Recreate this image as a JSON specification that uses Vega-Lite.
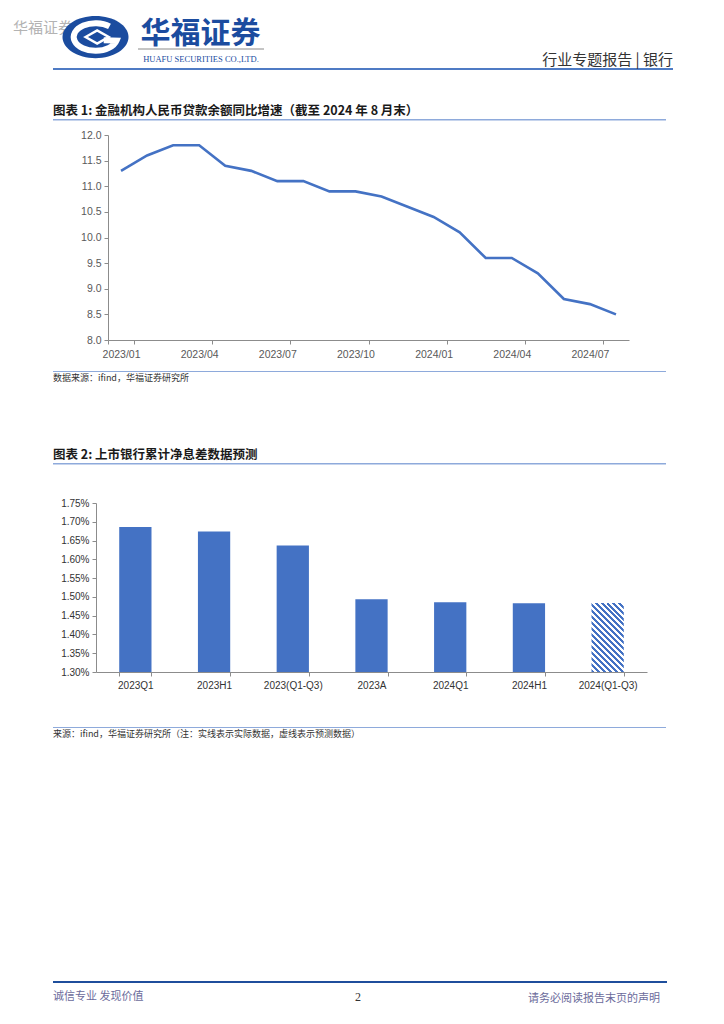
{
"$schema": "https://vega.github.io/schema/vega-lite/v6.json",
"background": "#ffffff",
"padding": {"left": 12, "top": 8, "right": 0, "bottom": 0},
"autosize": {"type": "pad"},
"bounds": "flush",
"spacing": 0,
"config": {
  "view": {"stroke": null},
  "axis": {"domainColor": "#8c8c8c", "tickColor": "#8c8c8c", "grid": false, "labelFont": "Liberation Sans"}
},
"vconcat": [
  {"width": 1, "height": 20, "data": {"values": [{}]}, "mark": {"type": "rect", "opacity": 0}, "encoding": {}},
  {"width": 40, "height": 0.01, "data": {"values": [{"t": "华福证券"}]}, "mark": {"type": "text", "align": "right", "font": "Noto Sans CJK SC", "fontSize": 15, "color": "#b3b3b3"}, "encoding": {"text": {"field": "t"}}},
  {"width": 1, "height": 4.5, "data": {"values": [{}]}, "mark": {"type": "rect", "opacity": 0}, "encoding": {}},
  {"width": 295, "height": 0.01, "data": {"values": [{"t": "华福证券"}]}, "mark": {"type": "text", "font": "Noto Sans CJK SC", "fontWeight": "bold", "fontSize": 30, "color": "#1b4c9f"}, "encoding": {"text": {"field": "t"}}},
  {"width": 1, "height": 1.5, "data": {"values": [{}]}, "mark": {"type": "rect", "opacity": 0}, "encoding": {}},
  {"width": 85, "height": 0.01, "data": {"values": [{}]},
   "layer": [
     {"mark": {"type": "point", "shape": "M-1,0A1,0.64,0,1,1,1,0A1,0.64,0,1,1,-1,0Z", "size": 4356, "filled": true, "opacity": 1, "color": "#1b4c9f"}, "encoding": {}},
     {"mark": {"type": "point", "shape": "M0.424,-0.322A0.66,0.42,0,1,0,0.6375,0.1087L0.25,0.1", "size": 4356, "filled": false, "opacity": 1, "stroke": "#ffffff", "strokeWidth": 6}, "encoding": {}},
     {"mark": {"type": "point", "shape": "M-0.3,0L0.05,-0.2L0.4,0L0.05,0.2Z", "size": 4356, "filled": false, "opacity": 1, "stroke": "#ffffff", "strokeWidth": 2.5}, "encoding": {}}
   ]},
  {"width": 1, "height": 10.5, "data": {"values": [{}]}, "mark": {"type": "rect", "opacity": 0}, "encoding": {}},
  {"width": 296, "height": 0.01, "data": {"values": [{}]}, "mark": {"type": "point", "shape": "M-1,0L1,0", "size": 15876, "filled": false, "opacity": 1, "stroke": "#8a8a8a", "strokeWidth": 1}, "encoding": {}},
  {"width": 1, "height": 8.5, "data": {"values": [{}]}, "mark": {"type": "rect", "opacity": 0}, "encoding": {}},
  {"width": 296, "height": 0.01, "data": {"values": [{"t": "HUAFU SECURITIES CO.,LTD."}]}, "mark": {"type": "text", "font": "Liberation Serif", "fontSize": 8.5, "color": "#1b4c9f"}, "encoding": {"text": {"field": "t"}}},
  {"width": 1, "height": 8, "data": {"values": [{}]}, "mark": {"type": "rect", "opacity": 0}, "encoding": {}},
  {"width": 620, "height": 2, "data": {"values": [{}]}, "mark": {"type": "rect", "color": "#4f7bc4"}, "encoding": {},
   "title": {"text": "行业专题报告 | 银行", "orient": "top", "anchor": "end", "frame": "group", "offset": -15, "baseline": "bottom", "fontSize": 15, "fontWeight": "normal", "color": "#333333", "font": "Noto Sans CJK SC"}},
  {"width": 1, "height": 48.5, "data": {"values": [{}]}, "mark": {"type": "rect", "opacity": 0}, "encoding": {}},
  {"width": 613, "height": 1.5, "data": {"values": [{}]}, "mark": {"type": "rect", "color": "#8eaadb"}, "encoding": {},
   "title": {"text": "图表 1:  金融机构人民币贷款余额同比增速（截至 2024 年 8 月末）", "orient": "top", "anchor": "start", "frame": "group", "offset": -11, "baseline": "bottom", "fontSize": 12.5, "fontWeight": "bold", "color": "#1a1a1a", "font": "Noto Sans CJK SC"}},
  {"width": 1, "height": 14, "data": {"values": [{}]}, "mark": {"type": "rect", "opacity": 0}, "encoding": {}},
  {
    "width": 576, "height": 205,
    "data": {"values": [
      {"month": "2023/01", "growth": 11.3},
      {"month": "2023/02", "growth": 11.6},
      {"month": "2023/03", "growth": 11.8},
      {"month": "2023/04", "growth": 11.8},
      {"month": "2023/05", "growth": 11.4},
      {"month": "2023/06", "growth": 11.3},
      {"month": "2023/07", "growth": 11.1},
      {"month": "2023/08", "growth": 11.1},
      {"month": "2023/09", "growth": 10.9},
      {"month": "2023/10", "growth": 10.9},
      {"month": "2023/11", "growth": 10.8},
      {"month": "2023/12", "growth": 10.6},
      {"month": "2024/01", "growth": 10.4},
      {"month": "2024/02", "growth": 10.1},
      {"month": "2024/03", "growth": 9.6},
      {"month": "2024/04", "growth": 9.6},
      {"month": "2024/05", "growth": 9.3},
      {"month": "2024/06", "growth": 8.8},
      {"month": "2024/07", "growth": 8.7},
      {"month": "2024/08", "growth": 8.5}
    ]},
    "mark": {"type": "line", "color": "#4472c4", "strokeWidth": 2.6},
    "encoding": {
      "x": {"field": "month", "type": "ordinal", "sort": null, "bandPosition": 0.5,
            "scale": {"type": "band", "paddingInner": 0, "paddingOuter": 0, "range": [55, 576]},
            "axis": {"title": null, "values": ["2023/01", "2023/04", "2023/07", "2023/10", "2024/01", "2024/04", "2024/07"], "tickBand": "extent", "labelAngle": 0, "labelFontSize": 10.5, "labelColor": "#595959", "tickSize": 4, "labelPadding": 5}},
      "y": {"field": "growth", "type": "quantitative",
            "scale": {"domain": [8, 12], "nice": false, "zero": false},
            "axis": {"title": null, "offset": -55, "values": [8, 8.5, 9, 9.5, 10, 10.5, 11, 11.5, 12], "format": ".1f", "labelFontSize": 10.5, "labelColor": "#595959", "tickSize": 4, "labelPadding": 3}}
    }
  },
  {"width": 1, "height": 31, "data": {"values": [{}]}, "mark": {"type": "rect", "opacity": 0}, "encoding": {}},
  {"width": 613, "height": 1, "data": {"values": [{}]}, "mark": {"type": "rect", "color": "#8eaadb"}, "encoding": {},
   "title": {"text": "数据来源：ifind，华福证券研究所", "orient": "bottom", "anchor": "start", "frame": "group", "offset": 2, "baseline": "top", "fontSize": 9, "fontWeight": "normal", "color": "#333333", "font": "Noto Sans CJK SC"}},
  {"width": 1, "height": 90.5, "data": {"values": [{}]}, "mark": {"type": "rect", "opacity": 0}, "encoding": {}},
  {"width": 613, "height": 1.5, "data": {"values": [{}]}, "mark": {"type": "rect", "color": "#8eaadb"}, "encoding": {},
   "title": {"text": "图表 2:  上市银行累计净息差数据预测", "orient": "top", "anchor": "start", "frame": "group", "offset": -11, "baseline": "bottom", "fontSize": 12.5, "fontWeight": "bold", "color": "#1a1a1a", "font": "Noto Sans CJK SC"}},
  {"width": 1, "height": 38, "data": {"values": [{}]}, "mark": {"type": "rect", "opacity": 0}, "encoding": {}},
  {
    "width": 594, "height": 169,
    "data": {"values": [
      {"period": "2023Q1", "nim": 1.686, "kind": "实际"},
      {"period": "2023H1", "nim": 1.674, "kind": "实际"},
      {"period": "2023(Q1-Q3)", "nim": 1.637, "kind": "实际"},
      {"period": "2023A", "nim": 1.494, "kind": "实际"},
      {"period": "2024Q1", "nim": 1.486, "kind": "实际"},
      {"period": "2024H1", "nim": 1.483, "kind": "实际"},
      {"period": "2024(Q1-Q3)", "nim": 1.484, "kind": "预测"}
    ]},
    "encoding": {
      "x": {"field": "period", "type": "ordinal", "sort": null,
            "scale": {"domain": ["2023Q1", "2023H1", "2023(Q1-Q3)", "2023A", "2024Q1", "2024H1", "2024(Q1-Q3)"], "paddingInner": 0.59, "paddingOuter": 0.295, "range": [43, 594]},
            "axis": {"title": null, "tickBand": "extent", "labelAngle": 0, "labelFontSize": 10, "labelColor": "#333333", "tickSize": 4, "labelPadding": 4}},
      "y": {"field": "nim", "type": "quantitative",
            "scale": {"domain": [1.3, 1.75], "nice": false, "zero": false},
            "axis": {"title": null, "offset": -43, "values": [1.3, 1.35, 1.4, 1.45, 1.5, 1.55, 1.6, 1.65, 1.7, 1.75], "labelExpr": "format(datum.value, '.2f') + '%'", "labelFontSize": 10, "labelColor": "#333333", "tickSize": 4, "labelPadding": 3}},
      "y2": {"datum": 1.3}
    },
    "layer": [
      {"transform": [{"filter": "datum.kind === '实际'"}], "mark": {"type": "bar", "color": "#4472c4"}},
      {"transform": [{"filter": "datum.kind === '预测'"}], "mark": {"type": "bar", "color": {"gradient": "linear", "x1": 0, "y1": 1, "x2": 0.563, "y2": -0.2043, "stops": [
        {"offset": 0, "color": "#4472c4"}, {"offset": 0.0294, "color": "#4472c4"}, {"offset": 0.0294, "color": "#ffffff"}, {"offset": 0.0588, "color": "#ffffff"},
        {"offset": 0.0588, "color": "#4472c4"}, {"offset": 0.0882, "color": "#4472c4"}, {"offset": 0.0882, "color": "#ffffff"}, {"offset": 0.1176, "color": "#ffffff"},
        {"offset": 0.1176, "color": "#4472c4"}, {"offset": 0.1471, "color": "#4472c4"}, {"offset": 0.1471, "color": "#ffffff"}, {"offset": 0.1765, "color": "#ffffff"},
        {"offset": 0.1765, "color": "#4472c4"}, {"offset": 0.2059, "color": "#4472c4"}, {"offset": 0.2059, "color": "#ffffff"}, {"offset": 0.2353, "color": "#ffffff"},
        {"offset": 0.2353, "color": "#4472c4"}, {"offset": 0.2647, "color": "#4472c4"}, {"offset": 0.2647, "color": "#ffffff"}, {"offset": 0.2941, "color": "#ffffff"},
        {"offset": 0.2941, "color": "#4472c4"}, {"offset": 0.3235, "color": "#4472c4"}, {"offset": 0.3235, "color": "#ffffff"}, {"offset": 0.3529, "color": "#ffffff"},
        {"offset": 0.3529, "color": "#4472c4"}, {"offset": 0.3824, "color": "#4472c4"}, {"offset": 0.3824, "color": "#ffffff"}, {"offset": 0.4118, "color": "#ffffff"},
        {"offset": 0.4118, "color": "#4472c4"}, {"offset": 0.4412, "color": "#4472c4"}, {"offset": 0.4412, "color": "#ffffff"}, {"offset": 0.4706, "color": "#ffffff"},
        {"offset": 0.4706, "color": "#4472c4"}, {"offset": 0.5, "color": "#4472c4"}, {"offset": 0.5, "color": "#ffffff"}, {"offset": 0.5294, "color": "#ffffff"},
        {"offset": 0.5294, "color": "#4472c4"}, {"offset": 0.5588, "color": "#4472c4"}, {"offset": 0.5588, "color": "#ffffff"}, {"offset": 0.5882, "color": "#ffffff"},
        {"offset": 0.5882, "color": "#4472c4"}, {"offset": 0.6176, "color": "#4472c4"}, {"offset": 0.6176, "color": "#ffffff"}, {"offset": 0.6471, "color": "#ffffff"},
        {"offset": 0.6471, "color": "#4472c4"}, {"offset": 0.6765, "color": "#4472c4"}, {"offset": 0.6765, "color": "#ffffff"}, {"offset": 0.7059, "color": "#ffffff"},
        {"offset": 0.7059, "color": "#4472c4"}, {"offset": 0.7353, "color": "#4472c4"}, {"offset": 0.7353, "color": "#ffffff"}, {"offset": 0.7647, "color": "#ffffff"},
        {"offset": 0.7647, "color": "#4472c4"}, {"offset": 0.7941, "color": "#4472c4"}, {"offset": 0.7941, "color": "#ffffff"}, {"offset": 0.8235, "color": "#ffffff"},
        {"offset": 0.8235, "color": "#4472c4"}, {"offset": 0.8529, "color": "#4472c4"}, {"offset": 0.8529, "color": "#ffffff"}, {"offset": 0.8824, "color": "#ffffff"},
        {"offset": 0.8824, "color": "#4472c4"}, {"offset": 0.9118, "color": "#4472c4"}, {"offset": 0.9118, "color": "#ffffff"}, {"offset": 0.9412, "color": "#ffffff"},
        {"offset": 0.9412, "color": "#4472c4"}, {"offset": 0.9706, "color": "#4472c4"}, {"offset": 0.9706, "color": "#ffffff"}, {"offset": 1, "color": "#ffffff"}
      ]}}}
    ]
  },
  {"width": 1, "height": 55, "data": {"values": [{}]}, "mark": {"type": "rect", "opacity": 0}, "encoding": {}},
  {"width": 613, "height": 1, "data": {"values": [{}]}, "mark": {"type": "rect", "color": "#8eaadb"}, "encoding": {},
   "title": {"text": "来源：ifind，华福证券研究所（注：实线表示实际数据，虚线表示预测数据）", "orient": "bottom", "anchor": "start", "frame": "group", "offset": 2, "baseline": "top", "fontSize": 9, "fontWeight": "normal", "color": "#333333", "font": "Noto Sans CJK SC"}},
  {"width": 1, "height": 253, "data": {"values": [{}]}, "mark": {"type": "rect", "opacity": 0}, "encoding": {}},
  {"width": 614, "height": 2, "data": {"values": [{}]}, "mark": {"type": "rect", "color": "#1f4e9c"}, "encoding": {}},
  {"width": 98, "height": 0.01, "data": {"values": [{}]}, "mark": {"type": "rect", "opacity": 0}, "encoding": {},
   "title": {"text": "诚信专业  发现价值", "orient": "bottom", "anchor": "start", "frame": "group", "offset": 8, "baseline": "top", "fontSize": 11, "fontWeight": "normal", "color": "#6b6b9b", "font": "Noto Sans CJK SC"}},
  {"width": 610, "height": 0.01, "data": {"values": [{}]}, "mark": {"type": "rect", "opacity": 0}, "encoding": {},
   "title": {"text": "2", "orient": "bottom", "anchor": "middle", "frame": "group", "offset": 8, "baseline": "top", "fontSize": 12, "fontWeight": "normal", "color": "#333333", "font": "Liberation Serif"}},
  {"width": 607, "height": 0.01, "data": {"values": [{}]}, "mark": {"type": "rect", "opacity": 0}, "encoding": {},
   "title": {"text": "请务必阅读报告末页的声明", "orient": "bottom", "anchor": "end", "frame": "group", "offset": 8, "baseline": "top", "fontSize": 11, "fontWeight": "normal", "color": "#6b6b9b", "font": "Noto Sans CJK SC"}}
]
}
